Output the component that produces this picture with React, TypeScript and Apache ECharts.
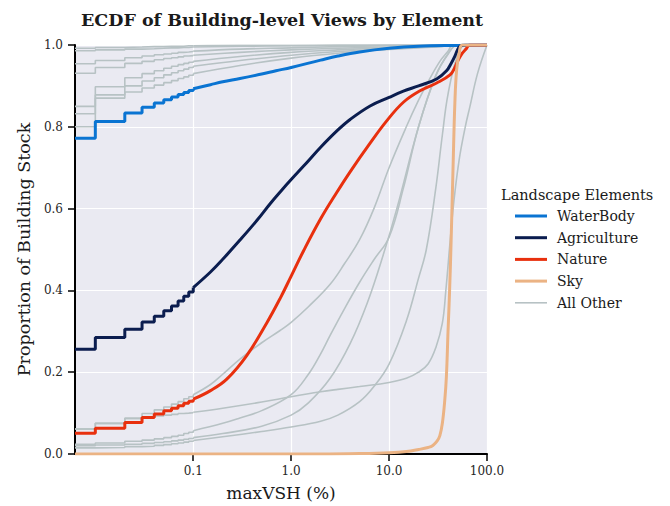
import React, { useEffect, useRef } from 'react';
import * as echarts from 'echarts';

// ---------- data ----------
const X_MIN = 0.0062;
const X_MAX = 100;
const X_TICKS = [0.1, 1, 10, 100];
const STEP_X = [0.0062, 0.01, 0.02, 0.03, 0.04, 0.05, 0.06, 0.07, 0.08, 0.09, 0.1];

const waterStep = [0.772, 0.813, 0.834, 0.848, 0.858, 0.866, 0.873, 0.879, 0.884, 0.889, 0.893];
const waterCurveX = [0.1, 0.15, 0.2, 0.3, 0.5, 0.7, 1, 2, 3, 5, 10, 20, 50, 100];
const waterCurve = [0.893, 0.903, 0.91, 0.918, 0.929, 0.937, 0.945, 0.963, 0.973, 0.983, 0.992, 0.997, 0.999, 1.0];

const agriStep = [0.256, 0.285, 0.305, 0.323, 0.337, 0.35, 0.362, 0.374, 0.386, 0.396, 0.407];
const agriCurveX = [0.1, 0.15, 0.2, 0.3, 0.45, 0.61, 0.8, 1, 1.34, 2, 2.93, 4, 6.4, 10, 14, 20, 30.6, 38.6, 43, 47, 50, 53, 60, 100];
const agriCurve = [0.407, 0.445, 0.476, 0.523, 0.572, 0.612, 0.645, 0.671, 0.704, 0.75, 0.79, 0.818, 0.851, 0.872, 0.887, 0.9, 0.917, 0.937, 0.955, 0.973, 0.988, 0.997, 1.0, 1.0];

const natureStep = [0.051, 0.063, 0.077, 0.089, 0.098, 0.106, 0.112, 0.118, 0.124, 0.129, 0.134];
const natureCurveX = [0.1, 0.15, 0.22, 0.35, 0.565, 0.77, 1, 1.34, 2, 2.93, 4, 6.4, 9.5, 14, 20.7, 30.6, 41.9, 47, 50.8, 56, 62, 66, 100];
const natureCurve = [0.134, 0.155, 0.183, 0.24, 0.321, 0.38, 0.435, 0.497, 0.575, 0.64, 0.69, 0.76, 0.815, 0.86, 0.888, 0.907, 0.927, 0.945, 0.963, 0.98, 0.992, 1.0, 1.0];

const skyCurveX = [0.0062, 2, 5, 10, 15, 20, 25, 28, 31, 33, 35, 37, 38.5, 40, 41.5, 43, 45, 47, 49, 52, 56, 100];
const skyCurve = [0, 0, 0.001, 0.003, 0.006, 0.011, 0.016, 0.021, 0.032, 0.045, 0.075, 0.13, 0.19, 0.3, 0.4, 0.52, 0.7, 0.86, 0.94, 0.98, 1.0, 1.0];

// "All Other" elements (lower group)
const other1Step = [0.061, 0.075, 0.087, 0.099, 0.108, 0.115, 0.122, 0.128, 0.135, 0.14, 0.145];
const other1CurveX = [0.1, 0.15, 0.2, 0.3, 0.5, 0.77, 1, 1.5, 2.5, 3.5, 5, 7, 10, 15, 20, 25, 33, 40, 45, 100];
const other1Curve = [0.145, 0.17, 0.195, 0.232, 0.272, 0.302, 0.322, 0.36, 0.415, 0.465, 0.524, 0.6, 0.7, 0.8, 0.865, 0.91, 0.96, 0.985, 1.0, 1.0];

const other2Step = [0.024, 0.027, 0.031, 0.034, 0.037, 0.04, 0.043, 0.046, 0.05, 0.053, 0.057];
const other2CurveX = [0.1, 0.2, 0.3, 0.5, 1, 1.5, 2, 2.5, 3.5, 5, 7, 10, 14, 20, 30, 40, 50, 100];
const other2Curve = [0.057, 0.075, 0.088, 0.106, 0.145, 0.195, 0.245, 0.29, 0.355, 0.42, 0.475, 0.53, 0.65, 0.8, 0.925, 0.978, 1.0, 1.0];

const other3Step = [0.061, 0.075, 0.087, 0.09, 0.093, 0.095, 0.097, 0.099, 0.1, 0.101, 0.102];
const other3CurveX = [0.1, 0.2, 0.5, 1, 2, 3, 5, 10, 15, 20, 25, 30, 35, 38, 42, 46, 52, 60, 67, 80, 100];
const other3Curve = [0.102, 0.112, 0.127, 0.14, 0.152, 0.158, 0.165, 0.175, 0.185, 0.2, 0.22, 0.26, 0.32, 0.4, 0.52, 0.62, 0.72, 0.8, 0.85, 0.93, 1.0];

const other4Step = [0.015, 0.016, 0.018, 0.019, 0.021, 0.023, 0.025, 0.027, 0.029, 0.031, 0.033];
const other4CurveX = [0.1, 0.2, 0.5, 1, 2, 3, 5, 7, 10, 15, 20, 24, 30, 35, 40, 50, 60, 100];
const other4Curve = [0.033, 0.042, 0.055, 0.066, 0.08, 0.095, 0.128, 0.165, 0.22, 0.325, 0.43, 0.5, 0.65, 0.78, 0.88, 0.975, 1.0, 1.0];

const other5Step = [0.02, 0.022, 0.024, 0.026, 0.028, 0.03, 0.032, 0.034, 0.036, 0.038, 0.04];
const other5CurveX = [0.1, 0.2, 0.5, 1, 1.5, 2.5, 4, 6, 8.8, 12, 20, 30, 40, 50, 100];
const other5Curve = [0.04, 0.05, 0.068, 0.095, 0.125, 0.185, 0.27, 0.37, 0.49, 0.6, 0.8, 0.925, 0.978, 1.0, 1.0];

// "All Other" elements (upper group)
const otherUpCurveX = [0.1, 0.3, 1, 3, 10, 30, 60, 100];
const other6Step = [0.8, 0.898, 0.92, 0.93, 0.937, 0.943, 0.948, 0.952, 0.955, 0.958, 0.96];
const other6Curve = [0.96, 0.972, 0.982, 0.988, 0.993, 0.997, 1.0, 1.0];
const other7Step = [0.832, 0.878, 0.9, 0.912, 0.92, 0.927, 0.932, 0.937, 0.941, 0.945, 0.948];
const other7Curve = [0.948, 0.962, 0.975, 0.984, 0.991, 0.996, 1.0, 1.0];
const other8Step = [0.85, 0.87, 0.885, 0.895, 0.902, 0.908, 0.913, 0.918, 0.922, 0.926, 0.93];
const other8Curve = [0.93, 0.95, 0.968, 0.98, 0.989, 0.995, 1.0, 1.0];
const other9Step = [0.931, 0.945, 0.955, 0.96, 0.964, 0.967, 0.969, 0.971, 0.973, 0.974, 0.975];
const other9Curve = [0.975, 0.982, 0.988, 0.992, 0.995, 0.998, 1.0, 1.0];
const other10Step = [0.954, 0.962, 0.969, 0.973, 0.976, 0.978, 0.98, 0.982, 0.983, 0.984, 0.985];
const other10Curve = [0.985, 0.99, 0.993, 0.996, 0.998, 0.999, 1.0, 1.0];
const other11Step = [0.986, 0.988, 0.99, 0.991, 0.992, 0.993, 0.993, 0.994, 0.994, 0.995, 0.995];
const other11Curve = [0.995, 0.997, 0.998, 0.999, 1.0, 1.0, 1.0, 1.0];
const other12Step = [0.992, 0.994, 0.995, 0.996, 0.996, 0.997, 0.997, 0.997, 0.998, 0.998, 0.998];
const other12Curve = [0.998, 0.999, 0.999, 1.0, 1.0, 1.0, 1.0, 1.0];

const LEGEND_NAMES = ['WaterBody', 'Agriculture', 'Nature', 'Sky', 'All Other'];

// ---------- styling ----------
const C_WATER = '#0a74d2';
const C_AGRI = '#0b1d4f';
const C_NATURE = '#e8300e';
const C_SKY = '#ebb384';
const C_OTHER = '#b7c2c4';
const FONT = "'DejaVu Serif', 'Liberation Serif', serif";

const lx = (v: number) => Math.log10(v);
const toPts = (xs: number[], ys: number[]) => xs.map((x, i) => [lx(x), ys[i]]);

function ecdfSeries(name: string, color: string, width: number, z: number, stepY: number[] | null, curveX: number[], curveY: number[]) {
  const base = {
    name,
    type: 'line',
    symbol: 'none',
    showSymbol: false,
    color,
    itemStyle: { color },
    lineStyle: { color, width },
    z,
    silent: true,
    emphasis: { disabled: true },
  };
  const out: any[] = [];
  if (stepY) out.push({ ...base, step: 'end', data: toPts(STEP_X, stepY) });
  out.push({ ...base, smooth: 0.4, data: toPts(curveX, curveY) });
  return out;
}

function buildOption() {
  const series: any[] = [
    ...ecdfSeries('All Other', C_OTHER, 1.6, 2, other1Step, other1CurveX, other1Curve),
    ...ecdfSeries('All Other', C_OTHER, 1.6, 2, other2Step, other2CurveX, other2Curve),
    ...ecdfSeries('All Other', C_OTHER, 1.6, 2, other3Step, other3CurveX, other3Curve),
    ...ecdfSeries('All Other', C_OTHER, 1.6, 2, other4Step, other4CurveX, other4Curve),
    ...ecdfSeries('All Other', C_OTHER, 1.6, 2, other5Step, other5CurveX, other5Curve),
    ...ecdfSeries('All Other', C_OTHER, 1.6, 2, other6Step, otherUpCurveX, other6Curve),
    ...ecdfSeries('All Other', C_OTHER, 1.6, 2, other7Step, otherUpCurveX, other7Curve),
    ...ecdfSeries('All Other', C_OTHER, 1.6, 2, other8Step, otherUpCurveX, other8Curve),
    ...ecdfSeries('All Other', C_OTHER, 1.6, 2, other9Step, otherUpCurveX, other9Curve),
    ...ecdfSeries('All Other', C_OTHER, 1.6, 2, other10Step, otherUpCurveX, other10Curve),
    ...ecdfSeries('All Other', C_OTHER, 1.6, 2, other11Step, otherUpCurveX, other11Curve),
    ...ecdfSeries('All Other', C_OTHER, 1.6, 2, other12Step, otherUpCurveX, other12Curve),
    ...ecdfSeries('WaterBody', C_WATER, 3, 3, waterStep, waterCurveX, waterCurve),
    ...ecdfSeries('Agriculture', C_AGRI, 3, 4, agriStep, agriCurveX, agriCurve),
    ...ecdfSeries('Nature', C_NATURE, 3, 5, natureStep, natureCurveX, natureCurve),
    ...ecdfSeries('Sky', C_SKY, 3, 6, null, skyCurveX, skyCurve),
  ];

  const legendIcon = (n: string) =>
    n === 'All Other' ? 'path://M0,0h32v1.6h-32z' : 'path://M0,0h32v3h-32z';

  return {
    animation: false,
    backgroundColor: '#ffffff',
    grid: {
      left: 75,
      right: 183,
      top: 45,
      bottom: 51.5,
      show: true,
      backgroundColor: '#eaeaf2',
      borderWidth: 0,
      containLabel: false,
    },
    xAxis: {
      type: 'value',
      min: lx(X_MIN),
      max: lx(X_MAX),
      name: 'maxVSH (%)',
      nameLocation: 'middle',
      nameGap: 30,
      nameTextStyle: { fontFamily: FONT, fontSize: 17, color: '#1a1a1a' },
      axisLine: { show: true, onZero: false, lineStyle: { color: '#000', width: 2 } },
      axisTick: { show: true, inside: false, length: 7, lineStyle: { color: '#000', width: 1.5 }, customValues: X_TICKS.map(lx) },
      axisLabel: {
        customValues: X_TICKS.map(lx),
        margin: 11,
        fontFamily: FONT,
        fontSize: 12,
        color: '#262626',
        formatter: (v: number) => Math.pow(10, v).toFixed(1),
      },
      splitLine: { show: true, lineStyle: { color: '#ffffff', width: 1.2 } },
    },
    yAxis: {
      type: 'value',
      min: 0,
      max: 1,
      interval: 0.2,
      name: 'Proportion of Building Stock',
      nameLocation: 'middle',
      nameGap: 42,
      nameTextStyle: { fontFamily: FONT, fontSize: 17.5, color: '#1a1a1a' },
      axisLine: { show: true, onZero: false, lineStyle: { color: '#000', width: 2 } },
      axisTick: { show: true, inside: false, length: 7, lineStyle: { color: '#000', width: 1.5 } },
      axisLabel: {
        margin: 12,
        fontFamily: FONT,
        fontSize: 12,
        color: '#262626',
        formatter: (v: number) => v.toFixed(1),
      },
      splitLine: { show: true, lineStyle: { color: '#ffffff', width: 1.2 } },
    },
    legend: {
      show: true,
      orient: 'vertical',
      left: 515,
      top: 209,
      padding: 0,
      itemWidth: 32,
      itemHeight: 14,
      itemGap: 7.7,
      selectedMode: false,
      textStyle: { fontFamily: FONT, fontSize: 14, color: '#1a1a1a', padding: [0, 0, 0, 5] },
      data: LEGEND_NAMES.map((n) => ({ name: n, icon: legendIcon(n) })),
    },
    graphic: [
      {
        type: 'text',
        x: 282,
        y: 20,
        style: {
          text: 'ECDF of Building-level Views by Element',
          font: `bold 17.5px ${FONT}`,
          fill: '#1a1a1a',
          textAlign: 'center',
          textVerticalAlign: 'middle',
        },
      },
      {
        type: 'text',
        x: 501,
        y: 195,
        style: {
          text: 'Landscape Elements',
          font: `14.5px ${FONT}`,
          fill: '#1a1a1a',
          textAlign: 'left',
          textVerticalAlign: 'middle',
        },
      },
    ],
    series,
  };
}

export default function App() {
  const ref = useRef<HTMLDivElement>(null);
  useEffect(() => {
    if (!ref.current) return;
    const chart = echarts.init(ref.current, undefined, { renderer: 'svg' });
    chart.setOption(buildOption() as any);
    return () => chart.dispose();
  }, []);
  return (
    <div
      ref={ref}
      style={{ position: 'fixed', left: 0, top: 0, width: 670, height: 506, background: '#fff' }}
    />
  );
}
